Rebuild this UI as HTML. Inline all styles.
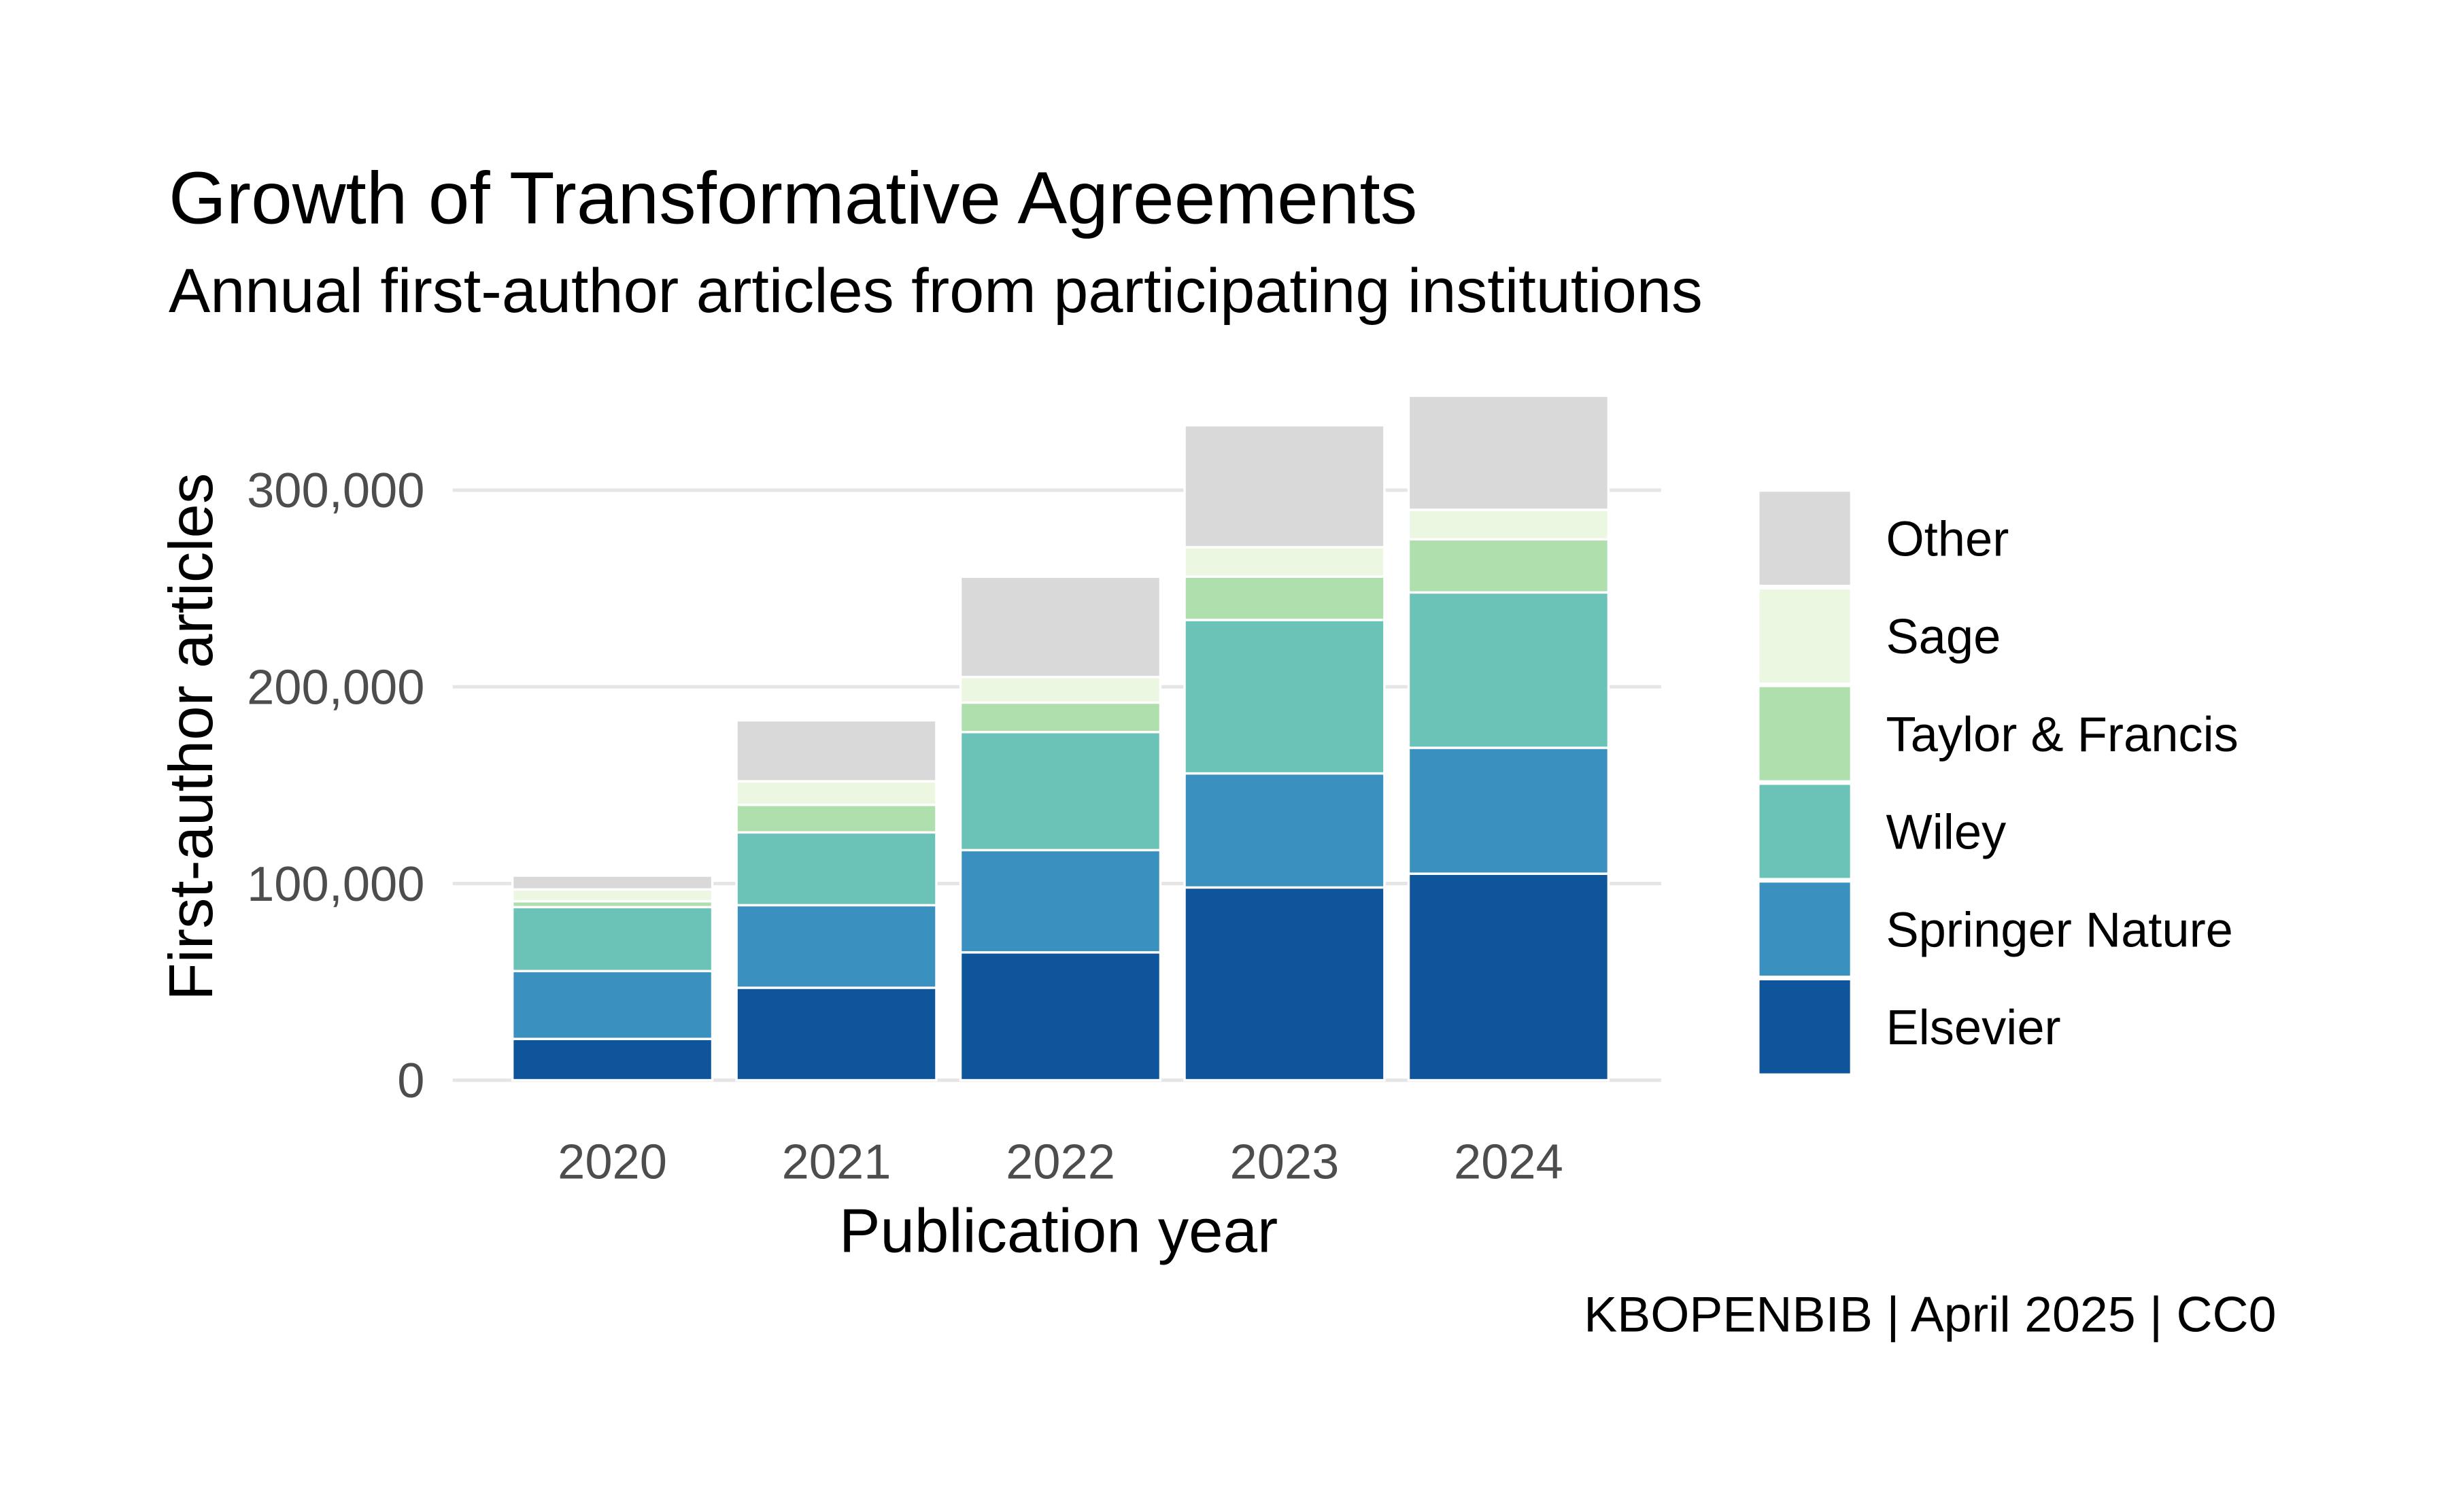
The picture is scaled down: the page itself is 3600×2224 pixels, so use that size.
<!DOCTYPE html>
<html><head><meta charset="utf-8"><style>
html,body{margin:0;padding:0;background:#fff}
svg{display:block;font-family:"Liberation Sans",Arial,sans-serif}
</style></head><body>
<svg id="chart" width="3600" height="2224" viewBox="0 0 1568 968.6" preserveAspectRatio="none" xmlns="http://www.w3.org/2000/svg">
<rect width="1568" height="968.6" fill="#fff"/>
<text x="108" y="143" font-size="47.5" fill="#000">Growth of Transformative Agreements</text>
<text x="108" y="200" font-size="40" fill="#000">Annual first-author articles from participating institutions</text>
<g id="grid"></g>
<g id="bars"></g>
<g id="yticks"></g>
<g id="xticks"></g>
<text x="678" y="802" font-size="39.5" text-anchor="middle" fill="#000">Publication year</text>
<text transform="translate(136,472) rotate(-90)" font-size="39.5" text-anchor="middle" fill="#000">First-author articles</text>
<g id="legend"></g>
<text x="1458" y="853" font-size="32" text-anchor="end" fill="#000">KBOPENBIB | April 2025 | CC0</text>
</svg>
<script>
const years = ["2020","2021","2022","2023","2024"];
const seriesNames = ["Elsevier","Springer Nature","Wiley","Taylor & Francis","Sage","Other"];
const elsevier = [21000,47000,65000,98000,105000];
const springer = [34500,42000,52000,58000,64000];
const wiley = [32500,37000,60000,78000,79000];
const taylorFrancis = [3000,14000,15000,22000,27000];
const sage = [6000,12000,13000,15000,15000];
const other = [7000,31000,51000,62000,58000];
const yTicks = [0,100000,200000,300000];
const yTickLabels = ["0","100,000","200,000","300,000"];

const series = [elsevier,springer,wiley,taylorFrancis,sage,other];
const colors = ["#0f559c","#3a91c0","#6ac3b6","#aedfad","#ecf7e2","#d9d9d9"];
const NS="http://www.w3.org/2000/svg";
const y0=692, pxPer=126/100000;
const yScale=v=>y0-v*pxPer;
const xLeft=320.5, band=143.5, barW=128;
const xScale=i=>xLeft+band*i+band/2;
function mk(tag,attrs,parent){const e=document.createElementNS(NS,tag);for(const k in attrs)e.setAttribute(k,attrs[k]);parent.appendChild(e);return e;}
const grid=document.getElementById('grid'), bars=document.getElementById('bars'), yt=document.getElementById('yticks'), xt=document.getElementById('xticks'), lg=document.getElementById('legend');
yTicks.forEach((t,i)=>{
  const l=mk('line',{x1:290,x2:1064,y1:yScale(t),y2:yScale(t),stroke:'#e5e5e5','stroke-width':2.2},grid);
  
  
  const tx=mk('text',{x:272,y:yScale(t)+11,'font-size':31.5,'text-anchor':'end',fill:'#4d4d4d'},yt);
  tx.textContent=yTickLabels[i];
  
  
});
years.forEach((yr,i)=>{
  let cum=0;
  series.forEach((s,j)=>{
    const v=s[i];
    const r=mk('rect',{x:xScale(i)-barW/2,y:yScale(cum+v),width:barW,height:v*pxPer,fill:colors[j],stroke:'#fff','stroke-width':1.5},bars);
    
    
    cum+=v;
  });
  const tx=mk('text',{x:xScale(i),y:755,'font-size':31.5,'text-anchor':'middle',fill:'#4d4d4d'},xt);
  tx.textContent=yr;
  
  
});
for(let k=0;k<6;k++){
  const j=5-k;
  const top=315+k*62.6;
  const r=mk('rect',{x:1127,y:top,width:58,height:59.6,fill:colors[j]},lg);
  
  
  const tx=mk('text',{x:1208,y:top+41,'font-size':31.5,fill:'#000'},lg);
  tx.textContent=seriesNames[j];
  
  
}
</script>
</body></html>
